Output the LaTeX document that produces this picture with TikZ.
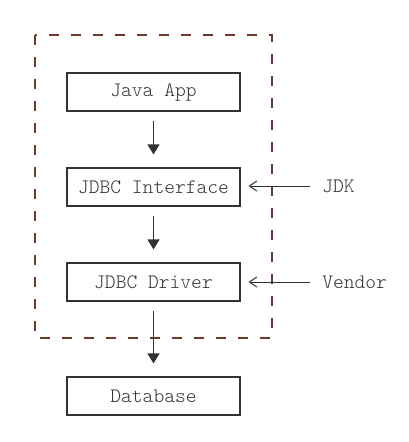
\documentclass[tikz,border=0pt]{standalone}
\usepackage{fontspec}
\usetikzlibrary{arrows.meta}
\definecolor{ink}{HTML}{333333}
\definecolor{frame}{HTML}{6E3A2C}
\newcommand{\labelfont}{\fontsize{15.4}{17}\fontseries{l}\ttfamily\selectfont}
\begin{document}
\begin{tikzpicture}[x=0.75pt,y=-0.75pt,
  layer/.style={draw=ink,line width=0.8pt,minimum width=173*0.75pt,minimum height=38*0.75pt,
    inner sep=0pt,text=ink,font=\labelfont},
  side/.style={anchor=west,inner xsep=9pt,inner ysep=0pt,text=ink,font=\labelfont},
  flow/.style={draw=ink,line width=0.9pt,-{Triangle[width=9pt,length=7.5pt]},
    shorten <=6.75pt,shorten >=9.75pt},
  hook/.style={draw=ink,line width=0.75pt,-{Straight Barb[length=5.5pt,width=7.5pt,line width=0.75pt]},
    shorten >=6pt}]
  \useasboundingbox (0,0) rectangle (408,442);
  % application boundary
  \draw[frame,line width=0.9pt,dash pattern=on 7.5pt off 9pt] (35,35) rectangle (272,338);
  % stack layers
  \node[layer] (app) at (153.5,92) {Java App};
  \node[layer] (api) at (153.5,187) {JDBC Interface};
  \node[layer] (drv) at (153.5,282) {JDBC Driver};
  \node[layer] (db)  at (153.5,396) {Database};
  % who provides what
  \node[side] (jdk) at (310,186) {JDK};
  \node[side] (vendor) at (310,282) {Vendor};
  % call flow
  \draw[flow] (app) -- (api);
  \draw[flow] (api) -- (drv);
  \draw[flow] (drv) -- (db);
  \draw[hook] (jdk.west) -- (jdk.west -| api.east);
  \draw[hook] (vendor.west) -- (vendor.west -| drv.east);
\end{tikzpicture}
\end{document}
